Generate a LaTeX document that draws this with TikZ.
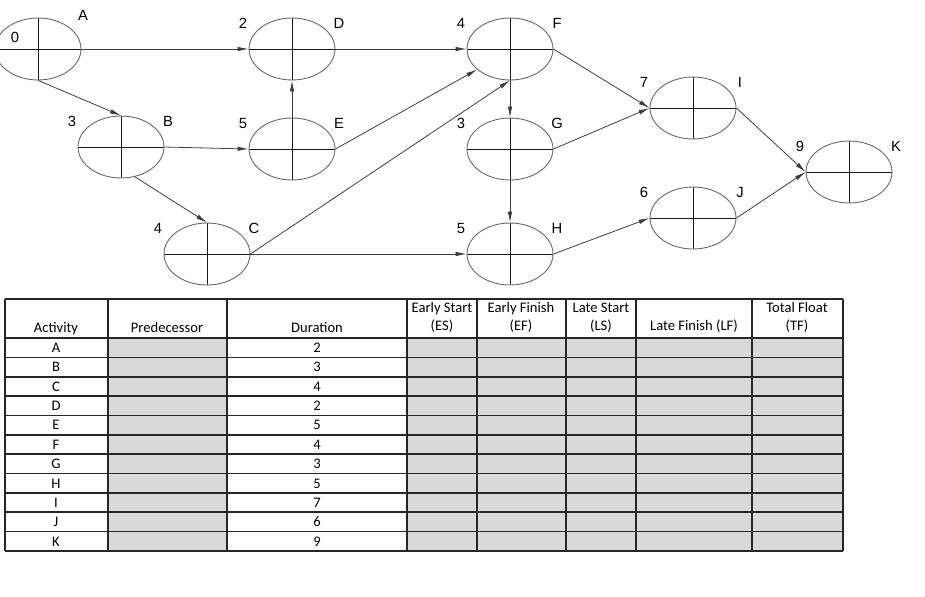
\documentclass[tikz,border=0pt]{standalone}
\usepackage{fontspec}
\setmainfont{Carlito}
\newfontfamily\arialfont{Liberation Sans}
\usetikzlibrary{arrows.meta,positioning,calc,shapes.geometric}
\definecolor{cellgray}{RGB}{217,217,217}
\definecolor{edgegray}{RGB}{60,60,60}

\begin{document}
\begin{tikzpicture}[x=0.02cm, y=-0.02cm,
  every node/.style={font=\fontsize{8.3}{9.5}\selectfont},
  ev/.style={draw=black!60, line width=0.5pt, ellipse, minimum width=1.72cm, minimum height=1.24cm, inner sep=0pt,
    path picture={\draw[line width=0.55pt, black!90] (path picture bounding box.north) -- (path picture bounding box.south)
      (path picture bounding box.west) -- (path picture bounding box.east);}},
  tag/.style={font=\arialfont\fontsize{8.4}{9}\selectfont, inner sep=0pt},
  cell/.style={inner sep=0pt, text height=1.5ex, text depth=0.35ex},
  arr/.style={-{Latex[length=2.2mm,width=0.9mm]}, line width=0.45pt, edgegray},
  tabline/.style={line width=0.9pt, black!85}]
\useasboundingbox (0,0) rectangle (925,596);

% activity network
\node[ev] (A) at (38,49) {};
\node[tag] at ($(A)+(-23,-12)$) {0};
\node[tag] at ($(A)+(45,-34)$) {A};
\foreach \n/\x/\y/\d in {D/292/49/2, B/121/147/3, E/292/149/5, C/207/254/4, F/510/49/4,
    G/510/149/3, H/510/254/5, I/693/108/7, J/693/218/6, K/849/172/9} {
  \node[ev] (\n) at (\x,\y) {};
  \node[tag] at ($(\n)+(-49,-26)$) {\d};
  \node[tag] at ($(\n)+(47,-26)$) {\n};
}

\draw[arr] (A.east) -- (D.west);
\draw[arr] (A.south) -- (B.north);
\draw[arr] (B.east) -- (E.west);
\draw[arr] (B.-65) -- (C.north);
\draw[arr] (E.north) -- (D.south);
\draw[arr] (D.east) -- (F.west);
\draw[arr] (E.east) -- (F.212);
\draw[arr] (C.east) -- (F.south);
\draw[arr] (C.east) -- (H.west);
\draw[arr] (F.south) -- (G.north);
\draw[arr] (G.south) -- (H.north);
\draw[arr] (F.east) -- (I.west);
\draw[arr] (G.east) -- (I.west);
\draw[arr] (H.east) -- (J.west);
\draw[arr] (I.east) -- (K.west);
\draw[arr] (J.east) -- (K.west);

% table
\fill[cellgray] (108,338) rectangle (227,551);
\fill[cellgray] (407,338) rectangle (843,551);
\foreach \x in {5,108,227,407,477,566,636,752,843}
  \draw[tabline] (\x,299) -- (\x,551);
\draw[tabline] (5,299) -- (843,299);
\foreach \i in {0,...,11}
  \draw[tabline] (5,338+19.36*\i) -- (843,338+19.36*\i);

\node[cell] at (56,328) {Activity};
\node[cell] at (167,328) {Predecessor};
\node[cell] at (317,328) {Duration};
\node[cell] at (442,308) {Early Start};
\node[cell] at (442,326) {(ES)};
\node[cell] at (521,308) {Early Finish};
\node[cell] at (521,326) {(EF)};
\node[cell] at (601,308) {Late Start};
\node[cell] at (601,326) {(LS)};
\node[cell] at (694,326) {Late Finish (LF)};
\node[cell] at (797,308) {Total Float};
\node[cell] at (797,326) {(TF)};

\foreach \a/\d [count=\i from 0] in {A/2, B/3, C/4, D/2, E/5, F/4, G/3, H/5, I/7, J/6, K/9} {
  \node[cell] at (56,347.7+19.36*\i) {\a};
  \node[cell] at (317,347.7+19.36*\i) {\d};
}
\end{tikzpicture}
\end{document}
